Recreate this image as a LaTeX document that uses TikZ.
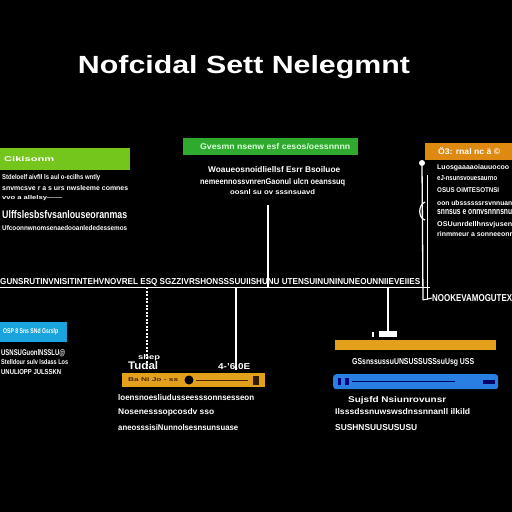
\documentclass[tikz,border=0pt]{standalone}
\usepackage{fontspec}
\usepackage{graphicx}
\setmainfont{Liberation Sans}
\definecolor{lgreen}{HTML}{74C51C}
\definecolor{cgreen}{HTML}{2FAA2F}
\definecolor{orng}{HTML}{DE8A12}
\definecolor{yorng}{HTML}{E2A01C}
\definecolor{lblue}{HTML}{1AA3DD}
\definecolor{dblue}{HTML}{2A80E2}
\newcommand{\gt}[3]{\resizebox{#1pt}{#2pt}{#3}}
\begin{document}
\begin{tikzpicture}[x=1pt,y=-1pt,
  bar/.style={inner sep=0pt, anchor=north west},
  txt/.style={text=white, anchor=west, inner sep=0pt, font=\bfseries\fontsize{6}{7}\selectfont},
  intxt/.style={anchor=west, inner sep=0pt, font=\bfseries\fontsize{6}{7}\selectfont},
  wire/.style={draw=white, line width=1.3pt}]
\fill[black] (0,0) rectangle (512,512);
\useasboundingbox (0,0) rectangle (512,512);

% title
\node[text=white, inner sep=0pt, font=\bfseries] (title) at (244,67) {\gt{332}{18}{Nofcidal Sett Nelegmnt}};

% left green block
\node[bar, fill=lgreen, minimum width=130pt, minimum height=22pt] (gl) at (0,148) {};
\node[intxt, text=white] (glt) at (4,159) {\gt{50}{5}{Cikisonm}};
\node[txt] (l1) at (2,178) {\gt{98}{5}{Stdeloelf aivfIl ls aul o-ecilhs wntly}};
\node[txt] (l2) at (2,188) {\gt{126}{5}{snvmcsve r a s urs nwsleeme comnes}};
\node[txt] (l3) at (2,198) {\gt{60}{4}{vvo a allelsy------}};
\node[txt] (l4) at (2,215) {\gt{125}{8}{Ulffslesbsfvsanlouseoranmas}};
\node[txt] (l5) at (2,228) {\gt{125}{5}{Ufcoonnwnomsenaedooanlededessemos}};

% center green block
\node[bar, fill=cgreen, minimum width=175pt, minimum height=17pt] (gc) at (183,138) {};
\node[intxt, text=white!85!green] (gct) at (200,146.5) {\gt{150}{6}{Gvesmn nsenw esf cesos/oessnnnn}};
\node[txt] (c1) at (208,170) {\gt{132}{6}{Woaueosnoidliellsf Esrr Bsoiluoe}};
\node[txt] (c2) at (200,182) {\gt{145}{6}{nemeennossvnrenGaonul ulcn oeanssuq}};
\node[txt] (c3) at (230,192) {\gt{85}{5}{oosnl su ov sssnsuavd}};
\coordinate (ctop) at (268,205);

% right orange block
\node[bar, fill=orng, minimum width=90pt, minimum height=17pt] (ro) at (425,143) {};
\node[intxt, text=white] (rot) at (438,151.5) {\gt{62}{7}{Ö3: rnal nc ä ©}};
\node[txt] (r1) at (437,168) {\gt{72}{5}{Luosgaaaaoiauuocoo}};
\node[txt] (r2) at (437,178) {\gt{60}{5}{eJ-nsunsvouesaurno}};
\node[txt] (r3) at (437,190) {\gt{62}{5}{OSUS OiMTESOTNSI}};
\node[txt] (r4) at (437,203) {\gt{75}{5}{oon ubssssssrsvnnuan}};
\node[txt] (r5) at (437,212) {\gt{75}{5}{snnsus e onnvsnnnsnu}};
\node[txt] (r6) at (437,225) {\gt{75}{5}{OSUunrdellhnsvjusen}};
\node[txt] (r7) at (437,234) {\gt{75}{5}{rinmmeur a sonneeonr}};

% right vertical connector
\node[circle, fill=white, minimum size=6pt, inner sep=0pt] (rdot) at (422,163) {};
\coordinate (rbot) at (423,300);
\draw[wire] (rdot) -- (rbot);
\draw[white, line width=1pt] (427,175) -- (427,300);
\draw[white, line width=1.2pt] (425,202) .. controls (418,205) and (418,218) .. (425,220);
\node[txt] (rlbl) at (432,298) {\gt{80}{7}{NOOKEVAMOGUTEX}};
\draw[white, line width=1pt] (423,300) -- (rlbl.west);

% horizontal bus
\coordinate (hl) at (0,287);
\coordinate (hr) at (430,287);
\node[txt] (bustxt) at (0,282) {\gt{420}{6}{GUNSRUTINVNISITINTEHVNOVREL ESQ SGZZIVRSHONSSSUUIISHUNU UTENSUINUNINUNEOUNNIIEVEIIES}};
\draw[white, line width=0.8pt] (hl) -- (hr);
\coordinate (cbus) at (268,287);
\draw[wire] (ctop) -- (cbus);

% drops from bus
\coordinate (d1t) at (147,287);
\coordinate (d1b) at (147,368);
\draw[white, line width=2pt, dash pattern=on 2pt off 1.5pt] (d1t) -- (d1b);
\coordinate (d2t) at (236,287);
\coordinate (d2b) at (236,370);
\draw[wire] (d2t) -- (d2b);
\coordinate (d3t) at (388,287);
\coordinate (d3b) at (388,331);
\draw[wire] (d3t) -- (d3b);
\node[bar, fill=white, minimum width=18pt, minimum height=6pt] (tee) at (379,331) {};
\node[fill=white, inner sep=0pt, minimum width=2pt, minimum height=5pt] (teedot) at (373,334) {};

% left blue block
\node[bar, fill=lblue, minimum width=67pt, minimum height=20pt] (lb) at (0,322) {};
\node[intxt, text=white] (lbt) at (3,332) {\gt{55}{5}{OSP 8 Sns SNd Gsrslp}};
\node[txt] (b1) at (1,353) {\gt{64}{6}{USNSUGuonlNSSLU@}};
\node[txt] (b2) at (1,362) {\gt{67}{5}{Stelldour sulv lsdass Los}};
\node[txt] (b3) at (1,372) {\gt{60}{5}{UNULIOPP JULSSKN}};

% bottom center orange device
\node[bar, fill=yorng, minimum width=143pt, minimum height=14pt] (oc) at (122,373) {};
\node[intxt, text=black!70!orange] (oct) at (128,380) {\gt{50}{4}{Ba Ni Jo - ss}};
\node[circle, fill=black, minimum size=9pt, inner sep=0pt] (knob) at (189,380) {};
\draw[black!70!orange, line width=0.8pt] (196,380) -- (248,380);
\node[bar, fill=black!80!orange, minimum width=6pt, minimum height=9pt] (ocsq) at (253,375.5) {};
\node[txt] (tudal) at (128,366) {\gt{30}{8}{Tudal}};
\node[txt] (shep) at (138,358) {\gt{22}{5}{shep}};
\node[txt] (gauge) at (218,367) {\gt{32}{6}{4-'6.0E}};
\node[txt] (o1) at (118,398) {\gt{136}{6}{loensnoesliudusseesssonnsesseon}};
\node[txt] (o2) at (118,412) {\gt{96}{6}{Nosenesssopcosdv sso}};
\node[txt] (o3) at (118,428) {\gt{120}{6}{aneosssisiNunnolsesnsunsuase}};

% bottom right
\node[bar, fill=yorng, minimum width=161pt, minimum height=10pt] (or) at (335,340) {};
\node[txt] (p0) at (352,362) {\gt{122}{6}{GSsnssussuUNSUSSUSSsuUsg USS}};
\node[bar, fill=dblue, rounded corners=3pt, minimum width=165pt, minimum height=15pt] (br) at (333,374) {};
\node[bar, fill=blue!50!black, minimum width=3pt, minimum height=7pt] (brq1) at (338,378) {};
\node[bar, fill=blue!50!black, minimum width=4pt, minimum height=7pt] (brq2) at (345,378) {};
\draw[blue!40!black, line width=0.7pt] (352,381.5) -- (455,381.5);
\node[bar, fill=blue!40!black, minimum width=12pt, minimum height=4pt] (brq3) at (483,379.5) {};
\node[txt] (p1) at (348,400) {\gt{98}{6}{Sujsfd Nsiunrovunsr}};
\node[txt] (p2) at (335,412) {\gt{135}{6}{Ilsssdssnuwswsdnssnnanll ilkild}};
\node[txt] (p3) at (335,428) {\gt{82}{6}{SUSHNSUUSUSUSU}};
\end{tikzpicture}
\end{document}
